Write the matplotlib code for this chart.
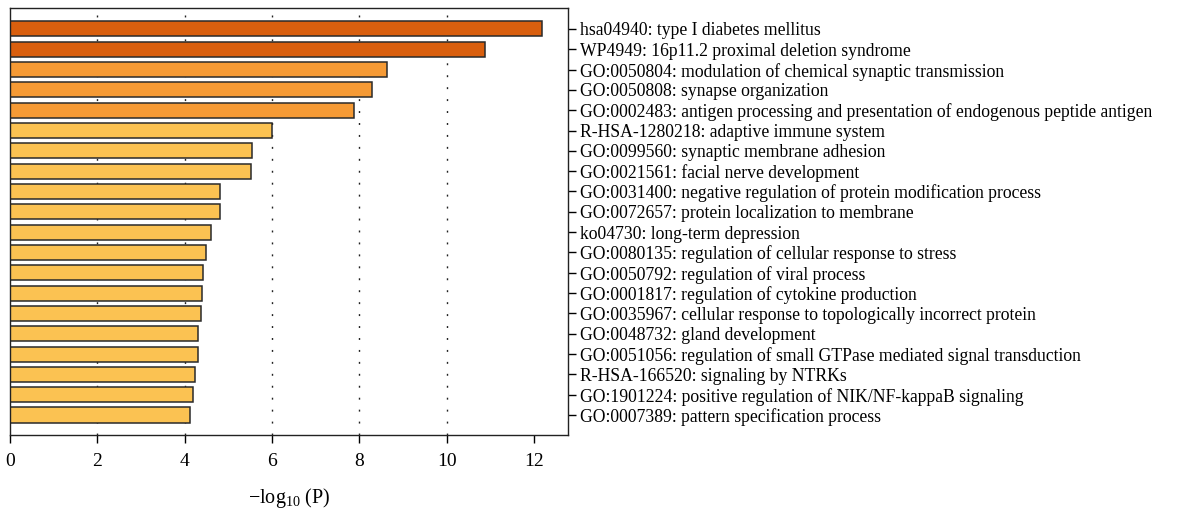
import matplotlib
matplotlib.use("Agg")
import matplotlib.pyplot as plt

plt.rcParams["font.family"] = ["Liberation Serif", "DejaVu Serif"]
plt.rcParams["mathtext.fontset"] = "custom"
plt.rcParams["mathtext.rm"] = "Liberation Serif"

terms = [
    "hsa04940: type I diabetes mellitus",
    "WP4949: 16p11.2 proximal deletion syndrome",
    "GO:0050804: modulation of chemical synaptic transmission",
    "GO:0050808: synapse organization",
    "GO:0002483: antigen processing and presentation of endogenous peptide antigen",
    "R-HSA-1280218: adaptive immune system",
    "GO:0099560: synaptic membrane adhesion",
    "GO:0021561: facial nerve development",
    "GO:0031400: negative regulation of protein modification process",
    "GO:0072657: protein localization to membrane",
    "ko04730: long-term depression",
    "GO:0080135: regulation of cellular response to stress",
    "GO:0050792: regulation of viral process",
    "GO:0001817: regulation of cytokine production",
    "GO:0035967: cellular response to topologically incorrect protein",
    "GO:0048732: gland development",
    "GO:0051056: regulation of small GTPase mediated signal transduction",
    "R-HSA-166520: signaling by NTRKs",
    "GO:1901224: positive regulation of NIK/NF-kappaB signaling",
    "GO:0007389: pattern specification process",
]
neg_log_p = [12.19, 10.87, 8.64, 8.30, 7.87, 6.00, 5.54, 5.53, 4.82, 4.81,
             4.60, 4.48, 4.42, 4.39, 4.38, 4.31, 4.31, 4.24, 4.18, 4.13]
# significance tier per term: 0 strongest, 2 weakest
tier = [0, 0, 1, 1, 1, 2, 2, 2, 2, 2, 2, 2, 2, 2, 2, 2, 2, 2, 2, 2]
tier_colors = ["#D95F0E", "#F59A35", "#FBC252"]

n = len(terms)
ypos = list(range(n - 1, -1, -1))

fig = plt.figure(figsize=(12.04, 5.13), dpi=100)
ax = fig.add_axes([10 / 1204, 1 - 434.5 / 513, 558 / 1204, 426.5 / 513])

for x in [2, 4, 6, 8, 10]:
    ax.axvline(x, color="#222222", lw=1.0, linestyle=(0, (1.4, 7.2)), zorder=1)

ax.barh(ypos, neg_log_p, height=0.74,
        color=[tier_colors[t] for t in tier],
        edgecolor="#2a2a2a", linewidth=1.1, zorder=2)

ax.set_xlim(0, 12.78)
ax.set_ylim(-0.96, n - 1 + 1.03)
ax.set_xticks([0, 2, 4, 6, 8, 10, 12])
ax.tick_params(axis="x", direction="out", length=6, width=1, labelsize=14, pad=7)

ax.yaxis.tick_right()
ax.set_yticks(ypos)
ax.set_yticklabels(terms)
ax.tick_params(axis="y", direction="out", length=6, width=1, labelsize=12.7, pad=3)

for s in ax.spines.values():
    s.set_linewidth(1.0)
    s.set_color("#222222")

ax.set_xlabel(r"$\mathregular{-log_{10}}$ (P)", fontsize=14.5, labelpad=12)

fig.savefig("out.png", dpi=100)
